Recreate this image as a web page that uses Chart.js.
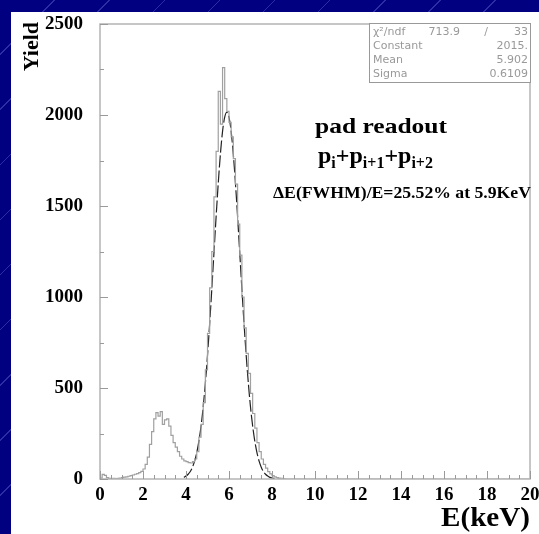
<!DOCTYPE html>
<html>
<head>
<meta charset="utf-8">
<script src="https://cdn.jsdelivr.net/npm/chart.js@4.4.1/dist/chart.umd.min.js"></script>
<style>
  html, body { margin: 0; padding: 0; }
  body {
    width: 539px; height: 534px; overflow: hidden; position: relative;
    background-color: #000080;
    background-image: repeating-linear-gradient(135deg, rgba(0,0,0,0) 0 38px, rgba(90,90,200,0.5) 38px 39px);
  }
  #panel { position: absolute; left: 11px; top: 12px; width: 528px; height: 522px; background: #fff; }
  canvas { display: block; }
</style>
</head>
<body>
<div id="panel"><canvas id="spec" width="528" height="522"></canvas></div>
<script>
// histogram: counts per 0.1 keV bin starting at 0 keV
const binWidth = 0.1;
const counts = [
  5, 25, 20, 8, 3, 2, 4, 2, 3, 5,
  8, 10, 12, 15, 18, 22, 26, 30, 35, 42,
  55, 80, 120, 190, 260, 330, 365, 345, 370, 300,
  325, 330, 290, 240, 200, 175, 150, 125, 110, 100,
  95, 90, 88, 95, 110, 150, 230, 300, 420, 600,
  800, 1050, 1250, 1550, 1800, 2130, 1950, 2260, 2090, 2020,
  1960, 1880, 1760, 1620, 1400, 1230, 1000, 830, 690, 580,
  470, 360, 280, 200, 150, 110, 80, 60, 40, 28,
  18, 12, 8, 5, 3, 2
];

// gaussian fit curve
const fitE = [3.9, 4.0, 4.1, 4.2, 4.3, 4.4, 4.5, 4.6, 4.7, 4.8, 4.9,
  5.0, 5.1, 5.2, 5.3, 5.4, 5.5, 5.6, 5.7, 5.8, 5.9,
  6.0, 6.1, 6.2, 6.3, 6.4, 6.5, 6.6, 6.7, 6.8, 6.9,
  7.0, 7.1, 7.2, 7.3, 7.4, 7.5, 7.6, 7.7, 7.8, 7.9,
  8.0, 8.1, 8.2, 8.3, 8.4, 8.5];
const fitYield = [9, 16, 26, 41, 65, 98, 145, 208, 291, 396, 526,
  679, 853, 1043, 1242, 1440, 1625, 1785, 1910, 1988, 2015,
  1988, 1910, 1785, 1625, 1440, 1242, 1043, 853, 679, 526,
  396, 291, 208, 145, 98, 65, 41, 26, 16, 9,
  5, 3, 2, 1, 0.5, 0.3];

const statLabels = ['Constant', 'Mean', 'Sigma'];
const statValues = ['2015.', '5.902', '0.6109'];
const chi2 = '713.9';
const ndf = '33';

const xMin = 0, xMax = 20, xStep = 2;
const yMin = 0, yMax = 2500, yStep = 500;

const histPoints = counts.map((c, i) => ({ x: i * binWidth, y: c }));
histPoints.push({ x: counts.length * binWidth, y: 0 });
histPoints.push({ x: xMax, y: 0 });
const fitPoints = fitE.map((e, i) => ({ x: e, y: fitYield[i] }));

const serif = '"Liberation Serif", "DejaVu Serif", serif';
const sans = '"DejaVu Sans", "Liberation Sans", sans-serif';

function fitText(ctx, text, x, y, width, font, align) {
  ctx.save();
  ctx.font = font;
  const w = ctx.measureText(text).width;
  const s = width / w;
  ctx.translate(x, y);
  ctx.scale(s, 1);
  ctx.textAlign = 'left';
  ctx.fillText(text, align === 'right' ? -w : 0, 0);
  ctx.restore();
}

function noPad(s) {
  s.paddingTop = 0; s.paddingBottom = 0; s.paddingLeft = 0; s.paddingRight = 0;
}

const decor = {
  id: 'decor',
  afterDraw(chart) {
    const ctx = chart.ctx;
    const a = chart.chartArea;
    const xs = chart.scales.x, ys = chart.scales.y;
    ctx.save();
    // frame
    ctx.strokeStyle = '#b4b4b4';
    ctx.lineWidth = 1.5;
    ctx.strokeRect(a.left, a.top, a.right - a.left, a.bottom - a.top);
    // inner ticks
    ctx.strokeStyle = '#9a9a9a';
    ctx.lineWidth = 1;
    ctx.beginPath();
    for (let v = yMin; v <= yMax; v += yStep / 2) {
      const py = Math.round(ys.getPixelForValue(v)) + 0.5;
      const len = v % yStep === 0 ? 8 : 4;
      ctx.moveTo(a.left, py); ctx.lineTo(a.left + len, py);
    }
    for (let v = xMin; v <= xMax; v += 0.5) {
      const px = Math.round(xs.getPixelForValue(v)) + 0.5;
      const len = v % xStep === 0 ? 8 : 4;
      ctx.moveTo(px, a.bottom); ctx.lineTo(px, a.bottom - len);
    }
    ctx.stroke();

    ctx.fillStyle = '#000';
    ctx.textBaseline = 'alphabetic';
    // axis titles
    ctx.save();
    ctx.translate(27, 10);
    ctx.rotate(-Math.PI / 2);
    ctx.font = 'bold 22px ' + serif;
    ctx.textAlign = 'right';
    ctx.fillText('Yield', 0, 0);
    ctx.restore();
    fitText(ctx, 'E(keV)', 519, 514, 89, 'bold 28px ' + serif, 'right');

    // annotations
    fitText(ctx, 'pad readout', 304, 121, 132, 'bold 22px ' + serif);
    let x = 307;
    const base = 151;
    const parts = [['p', 0], ['i', 1], ['+', 0], ['p', 0], ['i+1', 1], ['+', 0], ['p', 0], ['i+2', 1]];
    parts.forEach(([t, sub]) => {
      ctx.font = sub ? 'bold 16px ' + serif : 'bold 24px ' + serif;
      ctx.textAlign = 'left';
      ctx.fillText(t, x, sub ? base + 5 : base);
      x += ctx.measureText(t).width;
    });
    fitText(ctx, '\u0394E(FWHM)/E=25.52% at 5.9KeV', 520, 186, 258, 'bold 16px ' + serif, 'right');

    // stats box
    ctx.fillStyle = '#fff';
    ctx.fillRect(358, 11, 161, 59);
    ctx.strokeStyle = '#999';
    ctx.lineWidth = 1;
    ctx.strokeRect(358.5, 11.5, 161, 59);
    ctx.fillStyle = '#999';
    ctx.font = '11px ' + sans;
    ctx.textBaseline = 'middle';
    ctx.textAlign = 'left';
    ctx.fillText('\u03c7\u00b2/ndf', 362, 20);
    ctx.textAlign = 'right';
    ctx.fillText(chi2, 449, 20);
    ctx.fillText('/', 477, 20);
    ctx.fillText(ndf, 517, 20);
    statLabels.forEach((l, i) => {
      const py = 34 + i * 14;
      ctx.textAlign = 'left';
      ctx.fillText(l, 362, py);
      ctx.textAlign = 'right';
      ctx.fillText(statValues[i], 517, py);
    });
    ctx.restore();
  }
};

new Chart(document.getElementById('spec').getContext('2d'), {
  type: 'line',
  data: {
    datasets: [
      {
        label: 'data',
        data: histPoints,
        stepped: true,
        borderColor: '#a0a0a0',
        borderWidth: 1.2,
        pointRadius: 0,
        fill: false
      },
      {
        label: 'fit',
        data: fitPoints,
        borderColor: '#222',
        borderWidth: 1.2,
        borderDash: [12, 3],
        pointRadius: 0,
        tension: 0.3,
        fill: false
      }
    ]
  },
  options: {
    responsive: false,
    animation: false,
    layout: { padding: { top: 12, right: 9, left: 0, bottom: 0 } },
    plugins: { legend: { display: false }, tooltip: { enabled: false } },
    scales: {
      x: {
        type: 'linear',
        min: xMin, max: xMax,
        afterFit(s) { s.height = 55; noPad(s); },
        grid: { display: false, drawTicks: false },
        border: { display: false },
        ticks: {
          stepSize: xStep, autoSkip: false, maxRotation: 0, padding: 5,
          color: '#000',
          font: { family: serif, size: 19, weight: 'bold' },
          callback: v => String(v)
        }
      },
      y: {
        min: yMin, max: yMax,
        afterFit(s) { s.width = 89; noPad(s); },
        grid: { display: false, drawTicks: false },
        border: { display: false },
        ticks: {
          stepSize: yStep, padding: 17,
          color: '#000',
          font: { family: serif, size: 19, weight: 'bold' },
          callback: v => String(v)
        }
      }
    }
  },
  plugins: [decor]
});
</script>
</body>
</html>
